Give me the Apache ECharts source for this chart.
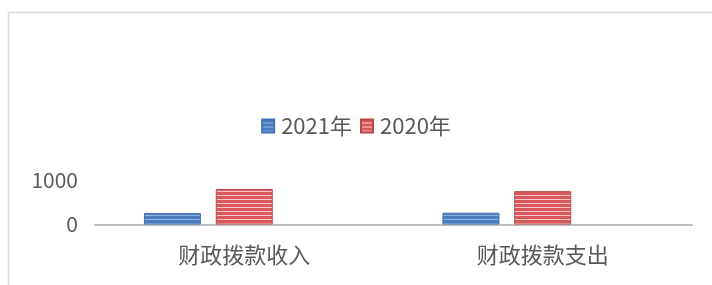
<!DOCTYPE html>
<html>
<head>
<meta charset="utf-8">
<script src="https://cdn.jsdelivr.net/npm/echarts@6/dist/echarts.min.js"></script>
<style>
  html, body { margin: 0; padding: 0; background: #fff; }
  #chart { width: 712px; height: 285px; }
</style>
</head>
<body>
<div id="chart"></div>
<script>
const categories = ['财政拨款收入', '财政拨款支出'];
const values2021 = [260, 265];
const values2020 = [800, 750];
const yTicks = [0, 1000];

// striped fill like the office chart
function stripes(base, line, period, lineH) {
    const c = document.createElement('canvas');
    c.width = 8;
    c.height = period;
    const g = c.getContext('2d');
    g.fillStyle = base;
    g.fillRect(0, 0, 8, period);
    g.fillStyle = line;
    g.fillRect(0, period - lineH, 8, lineH);
    return { image: c, repeat: 'repeat' };
}

const blueFill = stripes('#4a7dbf', '#8fb3df', 4, 1);
const redFill = stripes('#d9585a', '#f7c9ca', 4, 1);

const chart = echarts.init(document.getElementById('chart'));
chart.setOption({
    animation: false,
    textStyle: { fontFamily: '"Noto Sans CJK SC", sans-serif' },
    graphic: [{
        type: 'rect',
        shape: { x: 8.5, y: 12.5, width: 720, height: 300 },
        style: { fill: 'none', stroke: '#d9d9d9', lineWidth: 1.5 },
        silent: true
    }],
    legend: {
        data: ['2021年', '2020年'],
        top: 110,
        left: 'center',
        itemWidth: 12,
        itemHeight: 13,
        itemGap: 8,
        icon: 'rect',
        textStyle: { color: '#595959', fontSize: 22, padding: [0, 0, 0, 2] }
    },
    grid: { left: 95, right: 20, top: 180, bottom: 60.5 },
    xAxis: {
        type: 'category',
        data: categories,
        axisLine: { lineStyle: { color: '#bfbfbf', width: 2 } },
        axisTick: { show: false },
        axisLabel: { color: '#595959', fontSize: 22, margin: 19 }
    },
    yAxis: {
        type: 'value',
        min: yTicks[0],
        max: yTicks[yTicks.length - 1],
        interval: yTicks[1] - yTicks[0],
        axisLine: { show: false },
        axisTick: { show: false },
        splitLine: { show: false },
        axisLabel: {
            color: '#595959',
            fontSize: 21,
            margin: 17,
            formatter: v => String(v)
        }
    },
    series: [
        {
            name: '2021年',
            type: 'bar',
            data: values2021,
            barWidth: 57,
            barGap: '26%',
            itemStyle: { color: blueFill, borderColor: '#4472b0', borderWidth: 1 }
        },
        {
            name: '2020年',
            type: 'bar',
            data: values2020,
            barWidth: 57,
            itemStyle: { color: redFill, borderColor: '#b94a4c', borderWidth: 1 }
        },
        {
            name: '',
            type: 'bar',
            data: [null, null],
            barWidth: 57
        }
    ]
});
</script>
</body>
</html>
